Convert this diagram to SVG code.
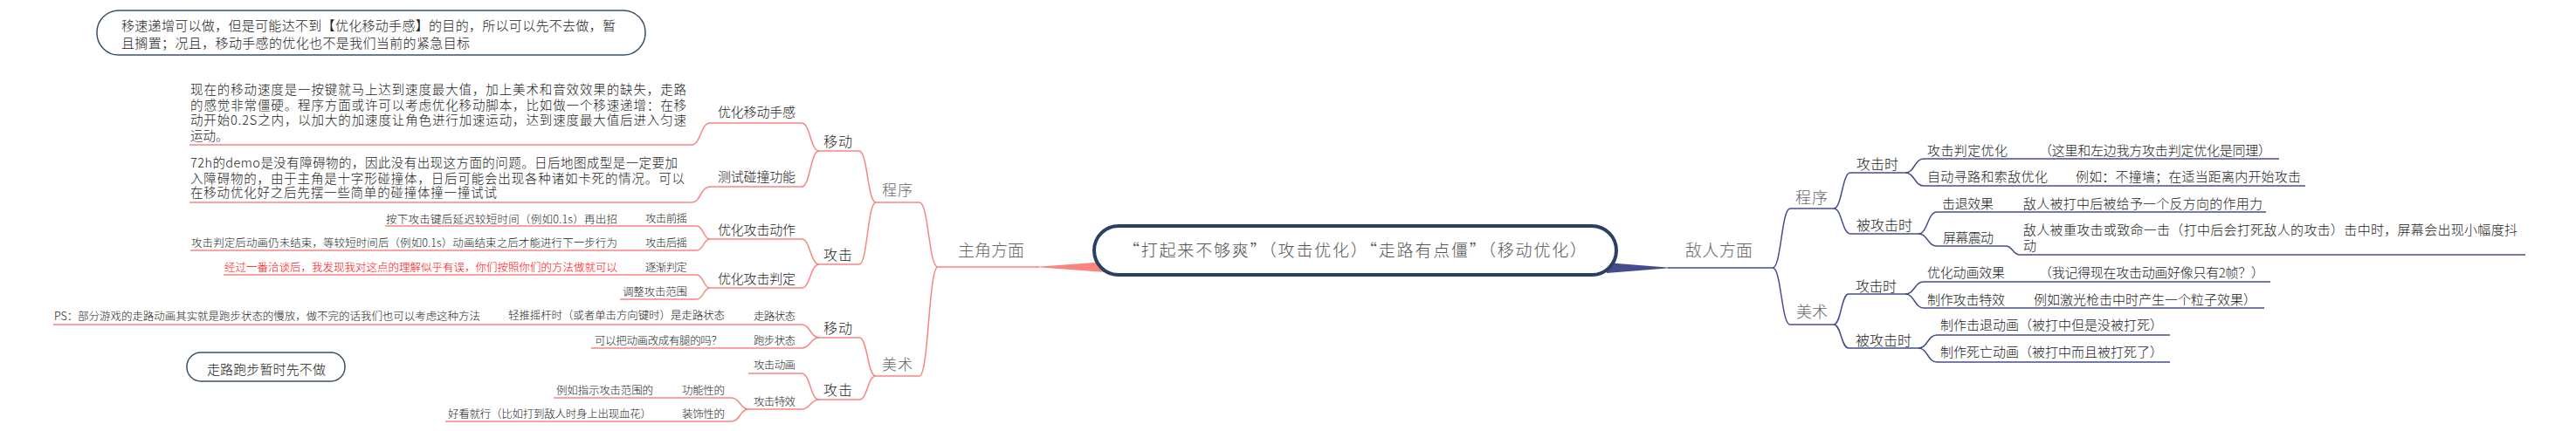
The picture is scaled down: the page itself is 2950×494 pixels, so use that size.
<svg xmlns="http://www.w3.org/2000/svg" width="2950" height="494" viewBox="0 0 2950 494">
<style>
text{font-family:"Noto Sans CJK SC","Noto Sans",sans-serif;font-weight:300;fill:#222}
.f12{font-size:12.5px}
.f14{font-size:14.5px}
.f15{font-size:15px}
.f16{font-size:16px}
.g17{font-size:17px;fill:#666}
.g18{font-size:18px;fill:#666}
.g19{font-size:19px;fill:#666}
.c19{font-size:19px;fill:#555}
.red{fill:#FF0000}
.lr{stroke:#F88580;stroke-width:1.5;fill:none}
.lb{stroke:#444C8E;stroke-width:1.5;fill:none}
.note{fill:#fff;stroke:#3B4F69;stroke-width:1.5}
</style>
<rect width="2950" height="494" fill="#fff"/>

<g id="connectors">
<path d="M1185,306 L1266,300 L1266,312 Z" fill="#F88580"/>
<path d="M1915,307 L1840,301 L1840,313 Z" fill="#444C8E"/>
<g class="lr">
<path d="M1053,232 C1063.5,232 1063.5,306 1074,306"/>
<path d="M1053,431 C1063.5,431 1063.5,306 1074,306"/>
<path d="M984,173 C993.5,173 993.5,232 1003,232"/>
<path d="M984,303 C993.5,303 993.5,232 1003,232"/>
<path d="M984,387 C993.5,387 993.5,431 1003,431"/>
<path d="M984,458 C993.5,458 993.5,431 1003,431"/>
<path d="M918,141 C928,141 928,173 938,173"/>
<path d="M918,214 C928,214 928,173 938,173"/>
<path d="M918,274 C928,274 928,303 938,303"/>
<path d="M918,330 C928,330 928,303 938,303"/>
<path d="M918,372 C928,372 928,387 938,387"/>
<path d="M918,399 C928,399 928,387 938,387"/>
<path d="M918,428 C928,428 928,458 938,458"/>
<path d="M918,469 C928,469 928,458 938,458"/>
<path d="M792,166 C802.5,166 802.5,141 813,141"/>
<path d="M792,232 C802.5,232 802.5,214 813,214"/>
<path d="M798,259 C805.5,259 805.5,274 813,274"/>
<path d="M798,287 C805.5,287 805.5,274 813,274"/>
<path d="M798,315 C805.5,315 805.5,330 813,330"/>
<path d="M798,343 C805.5,343 805.5,330 813,330"/>
<path d="M838,456 C847.5,456 847.5,469 857,469"/>
<path d="M838,483 C847.5,483 847.5,469 857,469"/>
<path d="M710,259 H733"/>
<path d="M710,287 H733"/>
<path d="M710,315 H733"/>
<path d="M553,372 H577"/>
<path d="M836,372 H857"/>
<path d="M836,399 H857"/>
<path d="M752,456 H776"/>
<path d="M752,483 H776"/>
</g>
<g class="lb">
<path d="M2030,307 C2040,307 2040,239 2050,239"/>
<path d="M2030,307 C2040,307 2040,372 2050,372"/>
<path d="M2100,239 C2109.5,239 2109.5,198 2119,198"/>
<path d="M2100,239 C2109.5,239 2109.5,268 2119,268"/>
<path d="M2100,372 C2108.5,372 2108.5,337 2117,337"/>
<path d="M2100,372 C2108.5,372 2108.5,399 2117,399"/>
<path d="M2182,198 C2192.5,198 2192.5,182 2203,182"/>
<path d="M2182,198 C2192.5,198 2192.5,213 2203,213"/>
<path d="M2197,268 C2207.5,268 2207.5,243 2218,243"/>
<path d="M2197,268 C2207.5,268 2207.5,282 2218,282"/>
<path d="M2182,337 C2192.5,337 2192.5,323 2203,323"/>
<path d="M2182,337 C2192.5,337 2192.5,353 2203,353"/>
<path d="M2197,399 C2207.5,399 2207.5,384 2218,384"/>
<path d="M2197,399 C2207.5,399 2207.5,415 2218,415"/>
<path d="M2297,282 C2305,282 2305,292 2313,292"/>
<path d="M2305,182 H2329"/>
<path d="M2351,213 H2371"/>
<path d="M2290,243 H2311"/>
<path d="M2302,323 H2329"/>
<path d="M2302,353 H2323"/>
</g>
</g>

<g id="center">
<rect x="1253" y="259" width="598" height="56" rx="28" fill="#fff" stroke="#27415F" stroke-width="4"/>
<text class="c19" x="1286" y="294.2" textLength="531">“打起来不够爽”（攻击优化）“走路有点僵”（移动优化）</text>
</g>

<g id="note-top">
<rect class="note" x="111" y="12" width="628" height="51" rx="25"/>
<text class="f15" x="139" y="34.7" textLength="566">移速递增可以做，但是可能达不到【优化移动手感】的目的，所以可以先不去做，暂</text>
<text class="f15" x="139" y="54.7" textLength="399">且搁置；况且，移动手感的优化也不是我们当前的紧急目标</text>
</g>
<g id="note-walk">
<rect class="note" x="214" y="404" width="181" height="33" rx="16"/>
<text class="f15" x="237" y="428.7" textLength="136">走路跑步暂时先不做</text>
</g>

<!-- left side -->
<g id="n-zhujue"><path class="lr" d="M1074,306 H1190"/><text class="g19" x="1097" y="294.2" textLength="76">主角方面</text></g>
<g id="n-l-chengxu"><path class="lr" d="M1003,232 H1053"/><text class="g17" x="1010" y="223.5" textLength="35">程序</text></g>
<g id="n-l-meishu"><path class="lr" d="M1003,431 H1053"/><text class="g17" x="1010" y="423.5" textLength="35">美术</text></g>
<g id="n-l-cx-yidong"><path class="lr" d="M938,173 H984"/><text class="f16" x="943" y="168" textLength="33">移动</text></g>
<g id="n-l-cx-gongji"><path class="lr" d="M938,303 H984"/><text class="f16" x="943" y="298" textLength="33">攻击</text></g>
<g id="n-l-ms-yidong"><path class="lr" d="M938,387 H984"/><text class="f16" x="943" y="382" textLength="33">移动</text></g>
<g id="n-l-ms-gongji"><path class="lr" d="M938,458 H984"/><text class="f16" x="943" y="453" textLength="33">攻击</text></g>

<g id="n-youhua-yidong"><path class="lr" d="M813,141 H918"/><text class="f15" x="822" y="133.7" textLength="89">优化移动手感</text></g>
<g id="n-ceshi"><path class="lr" d="M813,214 H918"/><text class="f15" x="822" y="207.7" textLength="89">测试碰撞功能</text></g>
<g id="n-youhua-dongzuo"><path class="lr" d="M813,274 H918"/><text class="f15" x="822" y="268.7" textLength="89">优化攻击动作</text></g>
<g id="n-youhua-panding"><path class="lr" d="M813,330 H918"/><text class="f15" x="822" y="324.7" textLength="89">优化攻击判定</text></g>
<g id="n-zoulu"><path class="lr" d="M857,372 H918"/><text class="f12" x="863" y="366.75" textLength="48">走路状态</text></g>
<g id="n-paobu"><path class="lr" d="M857,399 H918"/><text class="f12" x="863" y="394.75" textLength="48">跑步状态</text></g>
<g id="n-gj-donghua"><path class="lr" d="M857,428 H918"/><text class="f12" x="863" y="422.75" textLength="48">攻击动画</text></g>
<g id="n-gj-texiao"><path class="lr" d="M857,469 H918"/><text class="f12" x="863" y="464.75" textLength="48">攻击特效</text></g>

<g id="n-para1"><path class="lr" d="M217,166 H792"/>
<text class="f14" x="218" y="108.2" textLength="568">现在的移动速度是一按键就马上达到速度最大值，加上美术和音效效果的缺失，走路</text>
<text class="f14" x="218" y="125.5" textLength="568">的感觉非常僵硬。程序方面或许可以考虑优化移动脚本，比如做一个移速递增：在移</text>
<text class="f14" x="218" y="142.5" textLength="568">动开始0.2S之内，以加大的加速度让角色进行加速运动，达到速度最大值后进入匀速</text>
<text class="f14" x="218" y="160.5">运动。</text>
</g>
<g id="n-para2"><path class="lr" d="M217,232 H792"/>
<text class="f14" x="218" y="191.5" textLength="558">72h的demo是没有障碍物的，因此没有出现这方面的问题。日后地图成型是一定要加</text>
<text class="f14" x="218" y="209.5" textLength="566">入障碍物的，由于主角是十字形碰撞体，日后可能会出现各种诸如卡死的情况。可以</text>
<text class="f14" x="218" y="225.5" textLength="351">在移动优化好之后先摆一些简单的碰撞体撞一撞试试</text>
</g>

<g id="n-qianyao"><path class="lr" d="M733,259 H798"/><text class="f12" x="739" y="254.75" textLength="48">攻击前摇</text></g>
<g id="n-qianyao-d"><path class="lr" d="M441,259 H710"/><text class="f12" x="442" y="255.75" textLength="265">按下攻击键后延迟较短时间（例如0.1s）再出招</text></g>
<g id="n-houyao"><path class="lr" d="M733,287 H798"/><text class="f12" x="739" y="282.75" textLength="48">攻击后摇</text></g>
<g id="n-houyao-d"><path class="lr" d="M218,287 H710"/><text class="f12" x="219" y="282.75" textLength="488">攻击判定后动画仍未结束，等较短时间后（例如0.1s）动画结束之后才能进行下一步行为</text></g>
<g id="n-zhujian"><path class="lr" d="M733,315 H798"/><text class="f12" x="739" y="310.75" textLength="48">逐渐判定</text></g>
<g id="n-zhujian-d"><path class="lr" d="M256,315 H710"/><text class="f12 red" x="257" y="310.75" textLength="450">经过一番洽谈后，我发现我对这点的理解似乎有误，你们按照你们的方法做就可以</text></g>
<g id="n-fanwei"><path class="lr" d="M710,343 H798"/><text class="f12" x="713" y="338.75" textLength="74">调整攻击范围</text></g>
<g id="n-zoulu-d"><path class="lr" d="M577,372 H836"/><text class="f12" x="582" y="365.75" textLength="248">轻推摇杆时（或者单击方向键时）是走路状态</text></g>
<g id="n-ps"><path class="lr" d="M61,372 H553"/><text class="f12" x="62" y="366.75" textLength="488">PS：部分游戏的走路动画其实就是跑步状态的慢放，做不完的话我们也可以考虑这种方法</text></g>
<g id="n-paobu-d"><path class="lr" d="M677,399 H836"/><text class="f12" x="681" y="394.75" textLength="146">可以把动画改成有腿的吗？</text></g>
<g id="n-gongneng"><path class="lr" d="M776,456 H838"/><text class="f12" x="781" y="451.75" textLength="49">功能性的</text></g>
<g id="n-gongneng-d"><path class="lr" d="M634,456 H752"/><text class="f12" x="637" y="451.75" textLength="111">例如指示攻击范围的</text></g>
<g id="n-zhuangshi"><path class="lr" d="M776,483 H838"/><text class="f12" x="781" y="478.75" textLength="49">装饰性的</text></g>
<g id="n-zhuangshi-d"><path class="lr" d="M510,483 H752"/><text class="f12" x="513" y="478.75" textLength="233">好看就行（比如打到敌人时身上出现血花）</text></g>

<!-- right side -->
<g id="n-diren"><path class="lb" d="M1910,307 H2030"/><text class="g19" x="1930" y="294.2" textLength="77">敌人方面</text></g>
<g id="n-r-chengxu"><path class="lb" d="M2050,239 H2100"/><text class="g18" x="2056" y="232.8" textLength="37">程序</text></g>
<g id="n-r-meishu"><path class="lb" d="M2050,372 H2100"/><text class="g18" x="2057" y="363.8" textLength="36">美术</text></g>
<g id="n-r-cx-gjs"><path class="lb" d="M2119,198 H2182"/><text class="f16" x="2126" y="194" textLength="48">攻击时</text></g>
<g id="n-r-cx-bgjs"><path class="lb" d="M2119,268 H2197"/><text class="f16" x="2126" y="264" textLength="64">被攻击时</text></g>
<g id="n-r-ms-gjs"><path class="lb" d="M2117,337 H2182"/><text class="f16" x="2125" y="334" textLength="47">攻击时</text></g>
<g id="n-r-ms-bgjs"><path class="lb" d="M2117,399 H2197"/><text class="f16" x="2125" y="396" textLength="64">被攻击时</text></g>

<g id="n-r-panding"><path class="lb" d="M2203,182 H2305"/><text class="f15" x="2207" y="177.7" textLength="92">攻击判定优化</text></g>
<g id="n-r-panding-d"><path class="lb" d="M2329,182 H2610"/><text class="f15" x="2335" y="177.7" textLength="266">（这里和左边我方攻击判定优化是同理）</text></g>
<g id="n-r-xunlu"><path class="lb" d="M2203,213 H2351"/><text class="f15" x="2207" y="207.7" textLength="138">自动寻路和索敌优化</text></g>
<g id="n-r-xunlu-d"><path class="lb" d="M2371,213 H2640"/><text class="f15" x="2377" y="207.7" textLength="258">例如：不撞墙；在适当距离内开始攻击</text></g>
<g id="n-r-jitui"><path class="lb" d="M2218,243 H2290"/><text class="f15" x="2224" y="238.7" textLength="59">击退效果</text></g>
<g id="n-r-jitui-d"><path class="lb" d="M2311,243 H2595"/><text class="f15" x="2317" y="238.7" textLength="274">敌人被打中后被给予一个反方向的作用力</text></g>
<g id="n-r-zhendong"><path class="lb" d="M2218,282 H2297"/><text class="f15" x="2225" y="277.7" textLength="58">屏幕震动</text></g>
<g id="n-r-zhendong-d"><path class="lb" d="M2313,292 H2892"/><text class="f15" x="2317" y="268.7" textLength="566">敌人被重攻击或致命一击（打中后会打死敌人的攻击）击中时，屏幕会出现小幅度抖</text><text class="f15" x="2317" y="286.7">动</text></g>
<g id="n-r-donghua"><path class="lb" d="M2203,323 H2302"/><text class="f15" x="2207" y="317.7" textLength="89">优化动画效果</text></g>
<g id="n-r-donghua-d"><path class="lb" d="M2329,323 H2600"/><text class="f15" x="2335" y="317.7" textLength="258">（我记得现在攻击动画好像只有2帧？）</text></g>
<g id="n-r-texiao"><path class="lb" d="M2203,353 H2302"/><text class="f15" x="2207" y="348.7" textLength="89">制作攻击特效</text></g>
<g id="n-r-texiao-d"><path class="lb" d="M2323,353 H2593"/><text class="f15" x="2329" y="348.7" textLength="255">例如激光枪击中时产生一个粒子效果）</text></g>
<g id="n-r-jitui-dh"><path class="lb" d="M2218,384 H2485"/><text class="f15" x="2222" y="377.7" textLength="255">制作击退动画（被打中但是没被打死）</text></g>
<g id="n-r-siwang-dh"><path class="lb" d="M2218,415 H2485"/><text class="f15" x="2222" y="408.7" textLength="255">制作死亡动画（被打中而且被打死了）</text></g>
</svg>
